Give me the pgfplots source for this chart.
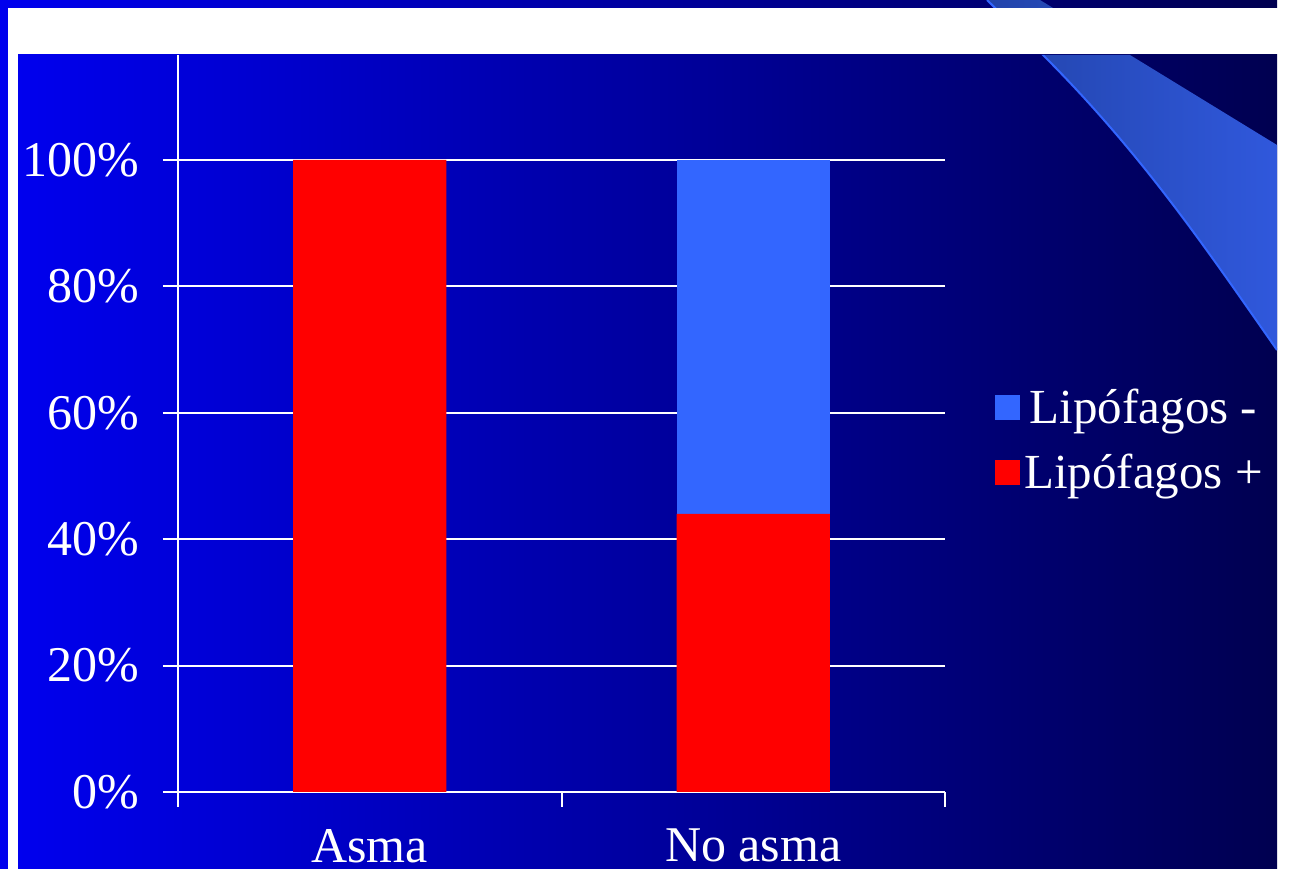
\documentclass[border=0pt]{standalone}
\usepackage{pgfplots}
\pgfplotsset{compat=1.18}
\usepackage{fontspec}
\setmainfont{Liberation Serif}
\definecolor{lipneg}{RGB}{51,102,255}
\definecolor{lippos}{RGB}{255,0,0}
\definecolor{bgleft}{RGB}{0,0,238}
\definecolor{bgright}{RGB}{0,0,80}
\definecolor{swl}{RGB}{34,68,170}
\definecolor{swr}{RGB}{48,88,220}
\definecolor{swedge}{RGB}{51,102,255}
\begin{document}
\begin{tikzpicture}[x=1pt,y=1pt]
\path[use as bounding box] (0,0) rectangle (646,447);
% outer slide background
\fill[white] (0,0) rectangle (646,447);
\shade[left color=bgleft, right color=bgright] (0,12.5) rectangle (638.5,447);
\fill[white] (4,0) rectangle (646,443);
% inner chart area
\shade[left color=bgleft, right color=bgright] (9,12.5) rectangle (638.5,419.5);
% decorative swoosh
\begin{scope}
\clip (0,443) rectangle (638.5,447) (9,12.5) rectangle (638.5,419.5);
\shade[left color=swl, right color=swr]
  (493.5,447) -- (521.5,419.5) .. controls (571.5,369.5) and (603.5,322) .. (638.5,272)
  -- (638.5,374.5) -- (565,419.5) -- (520,447) -- cycle;
\draw[swedge, line width=1pt]
  (493.5,447) -- (521.5,419.5) .. controls (571.5,369.5) and (603.5,322) .. (638.5,272);
\end{scope}
\begin{axis}[
  at={(89pt,51pt)}, anchor=south west,
  width=383.5pt, height=368.5pt, scale only axis,
  ybar stacked, bar width=0.4,
  xmin=-0.5, xmax=1.5, ymin=0, ymax=116.6,
  axis x line=bottom, axis y line=left,
  axis line style={white, line width=1pt, -},
  xtick={-0.5,0.5,1.5}, xticklabels={},
  extra x ticks={0,1}, extra x tick labels={Asma,No asma},
  extra x tick style={major tick length=0pt, tick label style={yshift=-15pt}},
  ytick={0,20,40,60,80,100},
  yticklabel={\pgfmathprintnumber{\tick}\%},
  yticklabel style={xshift=-8.5pt},
  ymajorgrids, grid style={white, line width=1pt},
  major tick length=7.5pt, tick align=outside,
  tick style={white, line width=1pt},
  ticklabel style={font=\fontsize{25}{30}\selectfont, text=white},
  /pgf/number format/assume math mode=true,
  legend style={at={(1.065,0.4776)}, anchor=west, draw=none, fill=none,
    text=white, font=\fontsize{24.5}{30}\selectfont, inner sep=0pt, row sep=10pt,
    /tikz/every even column/.append style={column sep=7.5pt}},
  legend image code/.code={\fill[#1] (0pt,-6.25pt) rectangle (12.5pt,6.25pt);},
  reverse legend,
]
\addplot[fill=lippos, draw=none] coordinates {(0,100) (1,44)};
\addlegendentry{Lipófagos +}
\addplot[fill=lipneg, draw=none] coordinates {(0,0) (1,56)};
\addlegendentry{Lipófagos -}
\end{axis}
\end{tikzpicture}
\end{document}
